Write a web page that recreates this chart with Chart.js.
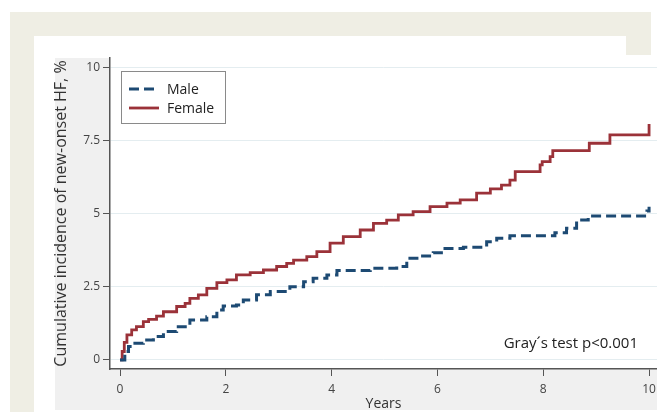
<!DOCTYPE html>
<html>
<head>
<meta charset="utf-8">
<script src="https://cdn.jsdelivr.net/npm/chart.js@4"></script>
<style>
  html, body { margin: 0; padding: 0; background: #fff; }
  #wrap { position: relative; width: 657px; height: 412px; overflow: hidden; }
  .beige { position: absolute; background: #efeee4; }
  #panel { position: absolute; left: 55px; top: 58px; width: 602px; height: 352px; background: #f0f0f0; }
  canvas { position: absolute; left: 0; top: 0; }
</style>
</head>
<body>
<div id="wrap">
  <div class="beige" style="left:10px;top:12px;width:641px;height:24px"></div>
  <div class="beige" style="left:10px;top:12px;width:24px;height:400px"></div>
  <div class="beige" style="left:626px;top:12px;width:25px;height:43px"></div>
  <div id="panel"></div>
  <canvas id="hfChart" width="657" height="412"></canvas>
</div>
<script>
// cumulative incidence (%)
const maleYears = [0, 0.09, 0.16, 0.25, 0.44, 0.63, 0.82, 1.07, 1.32, 1.64, 1.83, 1.95, 2.2, 2.33, 2.58, 2.84,
  3.21, 3.47, 3.65, 3.91, 4.1, 4.73, 5.23, 5.42, 5.67, 5.92, 6.11, 6.49, 6.93, 7.12, 7.37, 8.22, 8.44, 8.63, 8.85, 9.96, 10.0];
const maleInc = [0, 0.29, 0.46, 0.57, 0.68, 0.8, 0.97, 1.14, 1.37, 1.48, 1.71, 1.85, 1.88, 2.05, 2.23, 2.34,
  2.51, 2.68, 2.8, 2.91, 3.06, 3.14, 3.2, 3.48, 3.56, 3.67, 3.82, 3.86, 4.05, 4.17, 4.25, 4.36, 4.51, 4.79, 4.93, 5.1, 5.25];

const femaleYears = [0, 0.04, 0.08, 0.13, 0.22, 0.31, 0.44, 0.54, 0.69, 0.82, 1.07, 1.23, 1.32, 1.48, 1.64, 1.83,
  2.02, 2.2, 2.46, 2.71, 2.96, 3.15, 3.28, 3.53, 3.72, 3.97, 4.22, 4.54, 4.79, 5.04, 5.26, 5.54, 5.86, 6.18,
  6.43, 6.74, 7.0, 7.21, 7.37, 7.47, 7.94, 7.98, 8.13, 8.18, 8.87, 9.26, 10.0];
const femaleInc = [0, 0.29, 0.6, 0.86, 1.03, 1.14, 1.31, 1.39, 1.5, 1.65, 1.83, 1.94, 2.11, 2.23, 2.45, 2.65,
  2.74, 2.91, 2.99, 3.08, 3.2, 3.31, 3.42, 3.54, 3.71, 4.0, 4.22, 4.45, 4.68, 4.79, 4.97, 5.08, 5.25, 5.37,
  5.48, 5.71, 5.86, 5.99, 6.16, 6.45, 6.68, 6.79, 6.96, 7.17, 7.42, 7.71, 8.08];

const xTicks = [0, 2, 4, 6, 8, 10];
const yTicks = [0, 2.5, 5, 7.5, 10];
const yTickLabels = ['0', '2.5', '5', '7.5', '10'];
const testNote = 'Gray\u00b4s test p<0.001';

Chart.defaults.font.family = "'Open Sans', sans-serif";
Chart.defaults.color = '#333';

const toPoints = (xs, ys) => xs.map((x, i) => ({ x: x, y: ys[i] }));

// white plot region on top of the grey graph region
const plotBg = {
    id: 'plotBg',
    beforeDraw(chart) {
        const { ctx, chartArea: a } = chart;
        ctx.save();
        ctx.fillStyle = '#fff';
        ctx.fillRect(a.left, a.top, a.right - a.left, a.bottom - a.top);
        ctx.restore();
    }
};

// boxed legend in the top left corner and the test note
const boxLegend = {
    id: 'boxLegend',
    afterDraw(chart) {
        const { ctx, chartArea: a } = chart;
        const left = a.left + 11, top = a.top + 13;
        ctx.save();
        ctx.fillStyle = '#fff';
        ctx.fillRect(left, top, 104, 52);
        ctx.strokeStyle = '#8a8a8a';
        ctx.lineWidth = 1;
        ctx.strokeRect(left + 0.5, top + 0.5, 104, 52);
        ctx.font = "14px 'Open Sans', sans-serif";
        ctx.textBaseline = 'middle';
        chart.data.datasets.forEach((ds, i) => {
            const y = top + 18 + i * 19;
            ctx.strokeStyle = ds.borderColor;
            ctx.lineWidth = ds.borderWidth;
            ctx.setLineDash(ds.borderDash || []);
            ctx.beginPath();
            ctx.moveTo(left + 8, y);
            ctx.lineTo(left + 38, y);
            ctx.stroke();
            ctx.setLineDash([]);
            ctx.fillStyle = '#222';
            ctx.fillText(ds.label, left + 46, y + 1);
        });
        const xs = chart.scales.x, ys = chart.scales.y;
        ctx.font = "15px 'Open Sans', sans-serif";
        ctx.textAlign = 'right';
        ctx.fillStyle = '#222';
        ctx.fillText(testNote, xs.getPixelForValue(9.79), ys.getPixelForValue(0.55));
        ctx.restore();
    }
};

new Chart(document.getElementById('hfChart'), {
    type: 'line',
    data: {
        datasets: [{
            label: 'Male',
            data: toPoints(maleYears, maleInc),
            borderColor: '#1d4a73',
            borderWidth: 3,
            borderDash: [10, 5],
            stepped: true,
            pointRadius: 0,
        }, {
            label: 'Female',
            data: toPoints(femaleYears, femaleInc),
            borderColor: '#9b3239',
            borderWidth: 2.8,
            stepped: true,
            pointRadius: 0,
        }]
    },
    options: {
        responsive: false,
        animation: false,
        layout: { padding: { left: 0, top: 58, right: 0, bottom: 0 } },
        plugins: {
            legend: { display: false },
            tooltip: { enabled: false }
        },
        scales: {
            x: {
                type: 'linear',
                min: -0.19,
                max: 10.15,
                afterBuildTicks: s => { s.ticks = xTicks.map(v => ({ value: v })); },
                afterFit: s => { s.height = 43; s.paddingLeft = 0; s.paddingRight = 0; },
                ticks: { padding: 6, font: { size: 12 }, color: '#444' },
                grid: { drawOnChartArea: false, tickLength: 7, tickColor: '#555' },
                border: { color: '#555', width: 1.5 },
                title: { display: true, text: 'Years', font: { size: 14 }, color: '#333', padding: { top: 0, bottom: 0 } }
            },
            y: {
                min: -0.31,
                max: 10.34,
                afterBuildTicks: s => { s.ticks = yTicks.map(v => ({ value: v })); },
                afterFit: s => { s.width = 110; },
                ticks: {
                    padding: 3,
                    font: { size: 12 },
                    color: '#444',
                    callback: (v, i) => yTickLabels[i]
                },
                grid: { color: '#e4edf0', lineWidth: 1, tickLength: 7, tickColor: '#555' },
                border: { color: '#555', width: 1.5 },
                title: {
                    display: true,
                    text: 'Cumulative incidence of new-onset HF, %',
                    font: { size: 16 },
                    color: '#333',
                    padding: { top: 52, bottom: 0 }
                }
            }
        }
    },
    plugins: [plotBg, boxLegend]
});
</script>
</body>
</html>
